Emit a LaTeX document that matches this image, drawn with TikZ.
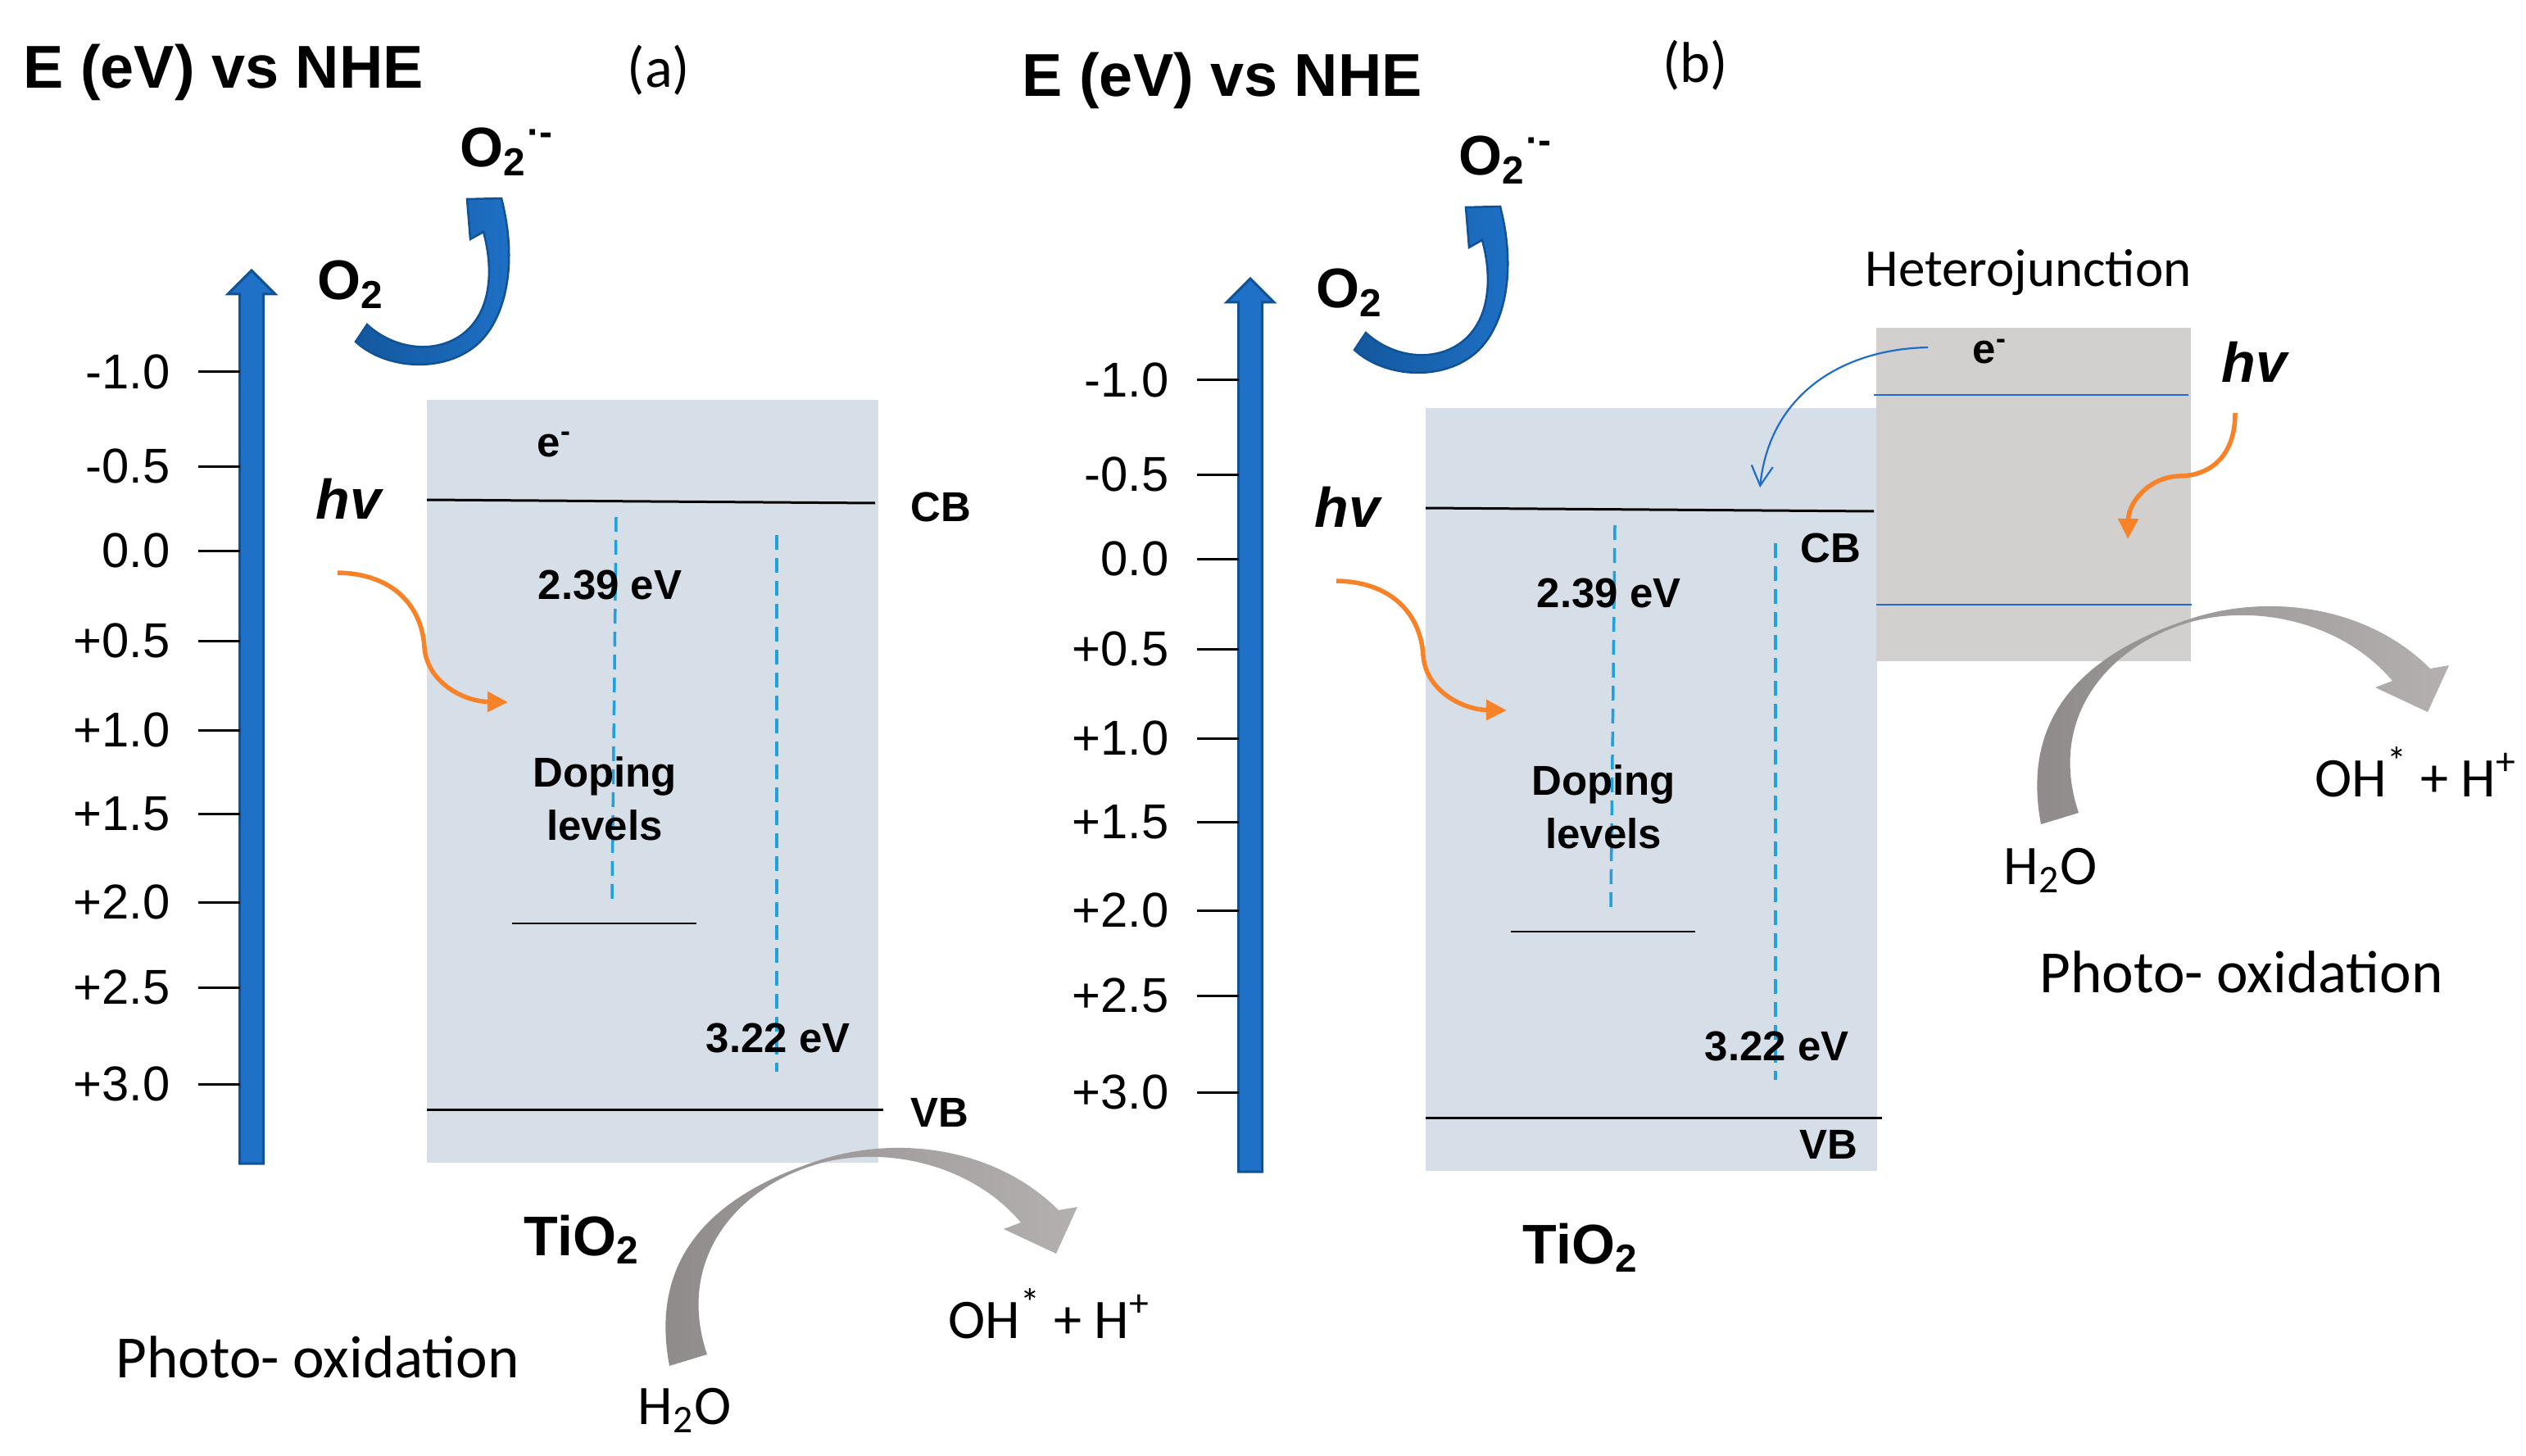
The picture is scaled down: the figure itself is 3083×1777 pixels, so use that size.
\documentclass[tikz,border=0pt]{standalone}
\usepackage{fontspec}
\setmainfont{Liberation Sans}
\newfontfamily\calibri{Carlito}
\usetikzlibrary{arrows.meta,positioning}

\definecolor{axisblue}{RGB}{30,113,199}
\definecolor{axisedge}{RGB}{16,82,150}
\definecolor{redoxdark}{RGB}{20,88,158}
\definecolor{bandfill}{RGB}{214,222,231}
\definecolor{hetfill}{RGB}{209,208,206}
\definecolor{hvorange}{RGB}{247,130,40}
\definecolor{gapblue}{RGB}{32,160,220}
\definecolor{lineblue}{RGB}{30,110,200}
\definecolor{graydark}{RGB}{142,138,138}
\definecolor{graylight}{RGB}{180,176,175}

% one band diagram (axis, TiO2 band, doping level, O2 reduction)
\newcommand{\panel}[1]{%
  \node[headline] (#1title) at (28,108) {E (eV) vs NHE};
  \filldraw[fill=axisblue, draw=axisedge, line width=0.3mm]
    (292.5,1420) -- (292.5,359) -- (278,359) -- (307,330) -- (336,359)
    -- (321.5,359) -- (321.5,1420) -- cycle;
  \foreach \y/\lab [count=\i] in {454/-1.0, 569/-0.5, 672/0.0, 782/+0.5,
      891/+1.0, 993/+1.5, 1101/+2.0, 1205/+2.5, 1323/+3.0} {
    \draw[tickmark] (242,\y) -- (293,\y);
    \node[ticklabel] (#1tick\i) at (208,\y) {\lab};
  }
  \fill[bandfill] (521,488) rectangle (1072,1419);
  \draw[bandline] (521,610) -- (1068,614);
  \draw[bandline] (521,1354) -- (1078,1354);
  \draw[line width=0.22mm] (625,1127) -- (850,1127);
  \draw[gapline] (752,631) -- (747,1097);
  \draw[gapline] (948,653) -- (948,1308);
  \node[boldtext] (#1gapdoped) at (656,731) {2.39 eV};
  \node[boldtext, align=center, anchor=center, font=\fontsize{14.5}{18.5}\selectfont\bfseries]
    (#1doping) at (738,975) {Doping\\levels};
  \node[boldtext] (#1gapbulk) at (861,1284) {3.22 eV};
  \node[species] (#1tio) at (639,1532) {TiO\textsubscript{2}};
  \node[species, font=\fontsize{19.4}{23}\selectfont\bfseries\itshape] (#1hv) at (385,633) {hv};
  \draw[photon] (412,699) .. controls (480,700) and (515,740) .. (518,790)
    .. controls (521,832) and (565,856) .. (620,857);
  \node[species] (#1oxygen) at (387,366) {O\textsubscript{2}};
  \node[species] (#1superoxide) at (561,204) {O\textsubscript{2}\textsuperscript{·-}};
  \shade[left color=redoxdark, right color=axisblue, draw=axisedge, line width=0.25mm]
    (434,417) .. controls (472,452) and (545,456) .. (585,418)
    .. controls (618,386) and (632,320) .. (612,242)
    -- (570,243) -- (574,292) -- (590,283)
    .. controls (603,330) and (600,385) .. (560,411)
    .. controls (525,433) and (478,424) .. (448,396) -- cycle;
}

% grey curved arrow of the photo-oxidation step
\newcommand{\oxarrow}{%
  \shade[left color=graydark, right color=graylight]
    (817,1667) .. controls (795,1550) and (850,1465) .. (1000,1416)
    .. controls (1095,1385) and (1215,1400) .. (1292,1477)
    -- (1315,1473) -- (1289,1530) -- (1225,1500) -- (1246,1492)
    .. controls (1185,1420) and (1080,1398) .. (1000,1420)
    .. controls (895,1450) and (825,1540) .. (863,1653) -- cycle;
}

\begin{document}
\begin{tikzpicture}[x=0.1mm, y=-0.1mm]
\tikzstyle{headline}=[font=\fontsize{21}{25}\selectfont\bfseries, anchor=base west, inner sep=0pt]
\tikzstyle{species}=[font=\fontsize{19.4}{23}\selectfont\bfseries, anchor=base west, inner sep=0pt]
\tikzstyle{boldtext}=[font=\fontsize{14.5}{16}\selectfont\bfseries, anchor=base west, inner sep=0pt]
\tikzstyle{ticklabel}=[font=\fontsize{17}{20}\selectfont, anchor=east, inner sep=0pt]
\tikzstyle{note}=[font=\calibri\fontsize{19.4}{23}\selectfont, anchor=base west, inner sep=0pt]
\tikzstyle{tickmark}=[black, line width=0.3mm]
\tikzstyle{bandline}=[black, line width=0.3mm]
\tikzstyle{gapline}=[gapblue, line width=0.35mm, dash pattern=on 1.8mm off 1mm]
\tikzstyle{photon}=[hvorange, line width=0.55mm, -{Triangle[length=2.5mm,width=2.4mm]}]
\tikzstyle{transfer}=[lineblue, line width=0.22mm, -{Straight Barb[length=2.4mm,width=2.6mm]}]
\tikzstyle{hetline}=[lineblue, line width=0.28mm]
\useasboundingbox (0,0) rectangle (3083,1777);

% (a) doped TiO2
\panel{a}
\node[boldtext] (aelectron) at (655,557) {e\textsuperscript{-}};
\node[boldtext] (acb) at (1111,636) {CB};
\node[boldtext] (avb) at (1111,1375) {VB};
\node[note, font=\calibri\fontsize{20}{24}\selectfont, anchor=base] (alabel) at (804,107) {(a)};
\oxarrow
\node[note] (aradical) at (1157,1633) {OH\textsuperscript{*} + H\textsuperscript{+}};
\node[note] (awater) at (778,1738) {H\textsubscript{2}O};
\node[note, font=\calibri\fontsize{20.8}{25}\selectfont] (aoxid) at (141,1681) {Photo- oxidation};

% (b) doped TiO2 with heterojunction
\begin{scope}[shift={(1219,10)}]
\panel{b}
\end{scope}
\node[boldtext] (bcb) at (2197,686) {CB};
\node[boldtext] (bvb) at (2196,1414) {VB};
\node[note, font=\calibri\fontsize{20}{24}\selectfont, anchor=base] (blabel) at (2069,101) {(b)};
\fill[hetfill] (2290,400) rectangle (2674,807);
\draw[hetline] (2287,482) -- (2671,482);
\draw[hetline] (2290,738) -- (2675,738);
\node[boldtext] (belectron) at (2407,444) {e\textsuperscript{-}};
\node[note, font=\calibri\fontsize{18.5}{22}\selectfont] (bhetero) at (2276,350) {Heterojunction};
\node[species, font=\fontsize{19.4}{23}\selectfont\bfseries\itshape] (bhv2) at (2711,467) {hv};
\draw[photon] (2728,504) .. controls (2728,562) and (2692,581) .. (2660,581)
  .. controls (2624,582) and (2598,612) .. (2597,658);
\draw[transfer] (2353,424) .. controls (2250,426) and (2160,480) .. (2148,595);
\begin{scope}[shift={(1674,-661)}]
\oxarrow
\end{scope}
\node[note] (bradical) at (2825,972) {OH\textsuperscript{*} + H\textsuperscript{+}};
\node[note] (bwater) at (2445,1079) {H\textsubscript{2}O};
\node[note, font=\calibri\fontsize{20.8}{25}\selectfont] (boxid) at (2489,1211) {Photo- oxidation};
\end{tikzpicture}
\end{document}
